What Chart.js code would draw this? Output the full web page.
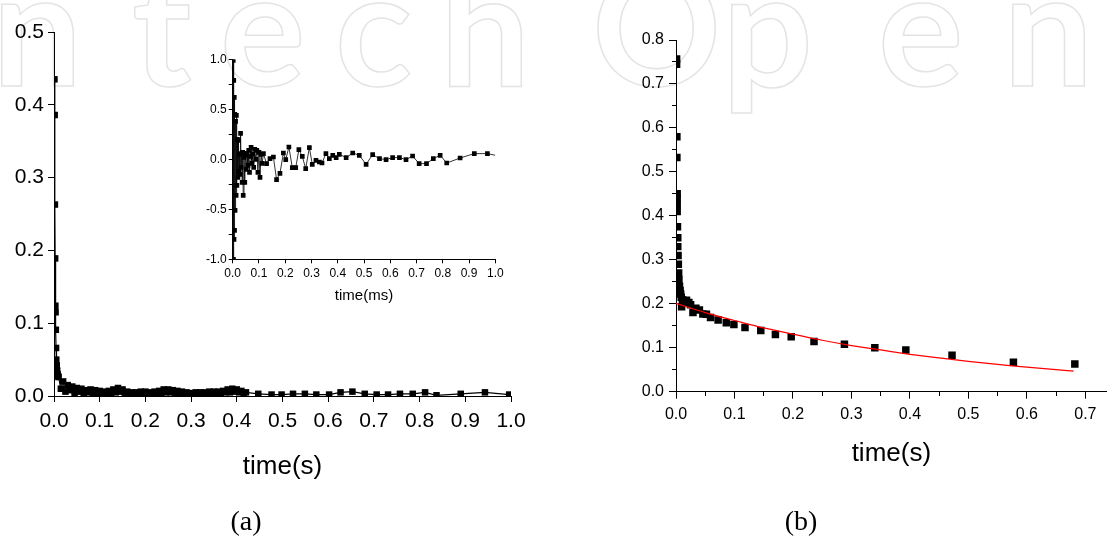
<!DOCTYPE html>
<html>
<head>
<meta charset="utf-8">
<script src="https://cdn.jsdelivr.net/npm/chart.js@4.4.1/dist/chart.umd.min.js"></script>
<style>
  body { margin: 0; width: 1112px; height: 543px; overflow: hidden; background: #fff; position: relative; }
  canvas { position: absolute; }
  .cap { position: absolute; font: 28px "Liberation Serif", serif; line-height: 28px; color: #000; transform: translateX(-50%); }
</style>
</head>
<body>
<canvas id="wm" width="1112" height="543" style="left:0;top:0"></canvas>
<canvas id="chartA" width="560" height="500" style="left:0;top:0"></canvas>
<canvas id="inset" width="330" height="270" style="left:180px;top:45px"></canvas>
<canvas id="chartB" width="552" height="500" style="left:560px;top:0"></canvas>
<div class="cap" style="left:246px;top:507px">(a)</div>
<div class="cap" style="left:801px;top:507px">(b)</div>
<script>
// (a) main trace, time in s
const aTime = [
  0.001, 0.0015, 0.002, 0.0025, 0.003, 0.0035, 0.004, 0.0045, 0.005, 0.006, 0.007, 0.008, 0.009,
  0.010, 0.015, 0.020, 0.025, 0.030, 0.035, 0.040, 0.045, 0.050, 0.055,
  0.060, 0.065, 0.070, 0.075, 0.080, 0.085, 0.090, 0.095, 0.100, 0.105,
  0.110, 0.115, 0.120, 0.125, 0.130, 0.135, 0.140, 0.145, 0.150, 0.155,
  0.160, 0.165, 0.170, 0.175, 0.180, 0.185, 0.190, 0.195, 0.200, 0.205,
  0.210, 0.215, 0.220, 0.225, 0.230, 0.235, 0.240, 0.245, 0.250, 0.255,
  0.260, 0.265, 0.270, 0.275, 0.280, 0.285, 0.290, 0.295, 0.300, 0.305,
  0.310, 0.315, 0.320, 0.325, 0.330, 0.335, 0.340, 0.345, 0.350, 0.355,
  0.360, 0.365, 0.370, 0.375, 0.380, 0.385, 0.390, 0.395, 0.400, 0.405,
  0.410, 0.415, 0.420,
  0.447, 0.476, 0.498, 0.523, 0.549, 0.574, 0.602, 0.627, 0.653, 0.680,
  0.706, 0.731, 0.757, 0.785, 0.812, 0.837, 0.890, 0.943, 0.996
];
const aSignal = [
  0.435, 0.386, 0.263, 0.189, 0.124, 0.115, 0.091, 0.066, 0.050, 0.042, 0.035, 0.030, 0.027,
  0.026, 0.010, 0.020, 0.006, 0.015, 0.008, 0.013, 0.004, 0.011, 0.006,
  0.010, 0.003, 0.008, 0.005, 0.009, 0.003, 0.008, 0.004, 0.007, 0.003,
  0.006, 0.003, 0.007, 0.004, 0.009, 0.005, 0.011, 0.006, 0.009, 0.004,
  0.006, 0.003, 0.005, 0.003, 0.005, 0.003, 0.006, 0.003, 0.006, 0.003,
  0.005, 0.003, 0.006, 0.003, 0.007, 0.004, 0.009, 0.005, 0.009, 0.005,
  0.008, 0.004, 0.007, 0.003, 0.006, 0.003, 0.005, 0.003, 0.004, 0.002,
  0.005, 0.003, 0.005, 0.003, 0.005, 0.003, 0.006, 0.003, 0.006, 0.004,
  0.006, 0.004, 0.007, 0.005, 0.009, 0.005, 0.010, 0.006, 0.009, 0.005,
  0.007, 0.004, 0.005,
  0.003, 0.002, 0.002, 0.003, 0.003, 0.002, 0.002, 0.005, 0.006, 0.003,
  0.002, 0.002, 0.003, 0.003, 0.005, 0.001, 0.003, 0.005, 0.002
];

// inset, time in ms
const insetTime = [
  0.002, 0.003, 0.004, 0.005, 0.006, 0.007, 0.008, 0.009, 0.011, 0.013,
  0.014, 0.016, 0.018, 0.020, 0.022, 0.024, 0.026, 0.028, 0.030, 0.032,
  0.034, 0.036, 0.038, 0.040, 0.043, 0.046, 0.049, 0.052, 0.055, 0.058,
  0.061, 0.064, 0.067, 0.070, 0.073, 0.076, 0.080, 0.084, 0.088, 0.092,
  0.096, 0.100, 0.104, 0.108, 0.112,
  0.117, 0.129, 0.142, 0.155, 0.167, 0.180, 0.193, 0.202, 0.214, 0.227,
  0.240, 0.252, 0.265, 0.278, 0.292, 0.303, 0.317, 0.330, 0.340, 0.355,
  0.368, 0.381, 0.394, 0.406, 0.432, 0.457, 0.482, 0.508, 0.533, 0.559,
  0.584, 0.609, 0.635, 0.660, 0.685, 0.710, 0.738, 0.764, 0.790, 0.815,
  0.866, 0.920, 0.970, 1.000
];
const insetSignal = [
  0.99, -1.00, 0.79, -0.80, 0.62, -0.71, 0.45, -0.51, 0.38, -0.36,
  0.44, -0.26, 0.20, -0.18, 0.19, -0.12, 0.05, -0.15, 0.26, -0.08,
  0.06, -0.23, 0.07, -0.36, 0.02, -0.23, 0.06, -0.10, 0.04, -0.06,
  0.09, -0.13, 0.03, 0.12, -0.04, 0.05, -0.08, 0.10, 0.00, 0.09,
  -0.13, 0.07, -0.18, 0.05, -0.04,
  0.057, -0.043, 0.007, 0.023, -0.203, -0.140, 0.063, -0.003, 0.123, -0.083,
  -0.083, 0.097, 0.030, -0.093, 0.117, -0.050, -0.010, -0.027, -0.037, 0.057,
  0.007, 0.040, 0.017, 0.050, 0.017, 0.063, 0.040, -0.050, 0.047, 0.007,
  -0.003, 0.017, 0.017, -0.003, 0.033, -0.043, -0.043, 0.007, 0.040, -0.037,
  0.013, 0.057, 0.057, 0.040
];

// (b) measured points and fitted curve, time in s
const bTime = [
  0.001, 0.001, 0.0015, 0.0015, 0.002, 0.002, 0.002, 0.002, 0.0025, 0.003,
  0.003, 0.0035, 0.004, 0.0045, 0.005, 0.006, 0.007, 0.008, 0.009, 0.0096,
  0.011, 0.014, 0.018, 0.022, 0.025, 0.029, 0.034, 0.040, 0.046, 0.052,
  0.059, 0.072, 0.086, 0.099, 0.118, 0.145, 0.170, 0.197, 0.236, 0.288,
  0.340, 0.393, 0.472, 0.577, 0.682
];
const bRatio = [
  0.757, 0.745, 0.580, 0.533, 0.450, 0.440, 0.425, 0.410, 0.375, 0.350,
  0.330, 0.310, 0.290, 0.270, 0.255, 0.240, 0.230, 0.222, 0.215, 0.193,
  0.209, 0.206, 0.208, 0.203, 0.198, 0.180, 0.190, 0.186, 0.177, 0.176,
  0.169, 0.163, 0.157, 0.153, 0.146, 0.139, 0.130, 0.125, 0.114, 0.108,
  0.100, 0.095, 0.083, 0.067, 0.063
];
const fitTime = [0, 0.05, 0.1, 0.15, 0.2, 0.25, 0.3, 0.35, 0.4, 0.45, 0.5, 0.55, 0.6, 0.65, 0.68];
const fitRatio = [0.201, 0.180, 0.162, 0.145, 0.131, 0.117, 0.105, 0.095, 0.085, 0.077, 0.069, 0.062, 0.056, 0.050, 0.047];

Chart.defaults.font.family = '"Liberation Sans", Arial, sans-serif';
Chart.defaults.color = '#000';

const pts = (xs, ys) => xs.map((x, i) => ({ x: x, y: ys[i] }));
const oneDecimal = v => Math.abs(v) < 1e-9 ? '0.0' : v.toFixed(1);
const isTenth = v => Math.abs(Math.round(v * 10) - v * 10) < 1e-6;

// axis with outward ticks only, origin style
function axis(min, max, step, fontSize, tickLen, pad, extra) {
  return Object.assign({
    type: 'linear', min: min, max: max, bounds: 'data',
    ticks: { stepSize: step, includeBounds: false, autoSkip: false, maxRotation: 0,
             font: { size: fontSize }, color: '#000', padding: pad, callback: oneDecimal },
    grid: { drawOnChartArea: false, drawTicks: true, tickLength: tickLen, tickColor: '#000', tickWidth: 1 },
    border: { display: true, color: '#000', width: 1 }
  }, extra);
}

const common = {
  responsive: false, animation: false, devicePixelRatio: 1,
  plugins: { legend: { display: false }, tooltip: { enabled: false } }
};

new Chart(document.getElementById('chartA'), {
  type: 'scatter',
  data: { datasets: [{
    data: pts(aTime, aSignal), showLine: true, borderColor: '#000', borderWidth: 1.2,
    pointStyle: 'rect', pointRadius: 4.6, pointBackgroundColor: '#000', pointBorderWidth: 0
  }] },
  options: Object.assign({}, common, {
    layout: { padding: { top: 32, right: 49, left: 0, bottom: 0 } },
    scales: {
      x: axis(0, 1, 0.1, 21, 6, 7, {
        title: { display: true, text: 'time(s)', font: { size: 26 }, color: '#000', padding: { top: 0, bottom: 18 } },
        afterFit: s => { s.height = 104; }
      }),
      y: axis(0, 0.5, 0.1, 21, 6, 4, { afterFit: s => { s.width = 54; } })
    }
  })
});

new Chart(document.getElementById('inset'), {
  type: 'scatter',
  data: { datasets: [{
    data: pts(insetTime, insetSignal), showLine: true, borderColor: '#000', borderWidth: 0.8,
    pointStyle: 'rect', pointRadius: c => c.dataIndex === insetTime.length - 1 ? 0 : 3.3,
    pointBackgroundColor: '#000', pointBorderWidth: 0
  }] },
  options: Object.assign({}, common, {
    layout: { padding: { top: 14.3, right: 14.7, left: 0, bottom: 0 } },
    scales: {
      x: axis(0, 1, 0.1, 12, 4, 3, {
        title: { display: true, text: 'time(ms)', font: { size: 15 }, color: '#000', padding: { top: 0, bottom: 10 } },
        afterFit: s => { s.height = 55.7; }
      }),
      y: axis(-1, 1, 0.25, 12, 4, 2, {
        ticks: { stepSize: 0.25, includeBounds: false, autoSkip: false, font: { size: 12 }, color: '#000', padding: 2,
                 callback: v => Math.abs(Math.round(v * 2) - v * 2) < 1e-6 ? oneDecimal(v) : '' },
        afterFit: s => { s.width = 52.7; }
      })
    }
  })
});

// short minor ticks: dash only the segment next to the axis line
const minorDash = horizontal => c => (c.tick && isTenth(c.tick.value)) ? [] : (horizontal ? [4, 40] : [0, 3, 4, 40]);

new Chart(document.getElementById('chartB'), {
  type: 'scatter',
  data: { datasets: [
    { type: 'line', data: pts(fitTime, fitRatio), borderColor: '#ff0000', borderWidth: 1.2,
      pointRadius: 0, tension: 0.4, fill: false, order: 0 },
    { data: pts(bTime, bRatio), showLine: false, pointStyle: 'rect', pointRadius: 5.3,
      pointBackgroundColor: '#000', pointBorderWidth: 0, order: 1 }
  ] },
  options: Object.assign({}, common, {
    layout: { padding: { top: 40, right: 0, left: 0, bottom: 0 } },
    scales: {
      x: axis(0, 0.7365, 0.05, 16, 7, 5, {
        ticks: { stepSize: 0.05, includeBounds: false, autoSkip: false, maxRotation: 0, font: { size: 16 }, color: '#000', padding: 6,
                 callback: v => isTenth(v) ? oneDecimal(v) : '' },
        grid: { drawOnChartArea: false, tickLength: 7, tickColor: '#000', tickBorderDash: minorDash(true) },
        title: { display: true, text: 'time(s)', font: { size: 26 }, color: '#000', padding: { top: 0, bottom: 31 } },
        afterFit: s => { s.height = 108.3; }
      }),
      y: axis(0, 0.8, 0.05, 16, 7, 5, {
        ticks: { stepSize: 0.05, includeBounds: false, autoSkip: false, font: { size: 16 }, color: '#000', padding: 5,
                 callback: v => isTenth(v) ? oneDecimal(v) : '' },
        grid: { drawOnChartArea: false, tickLength: 7, tickColor: '#000', tickBorderDash: minorDash(false) },
        afterFit: s => { s.width = 116; }
      })
    }
  })
});

// publisher watermark behind the plots
const wm = document.getElementById('wm').getContext('2d');
wm.font = '700 160px Lato';
wm.strokeStyle = '#e4e4e4';
wm.lineWidth = 1.5;
[['n', -8], ['t', 132], ['e', 220], ['c', 335], ['h', 440], ['O', 592], ['p', 722], ['e', 878], ['n', 1003]]
  .forEach(([ch, x]) => wm.strokeText(ch, x, 86));
</script>
</body>
</html>
